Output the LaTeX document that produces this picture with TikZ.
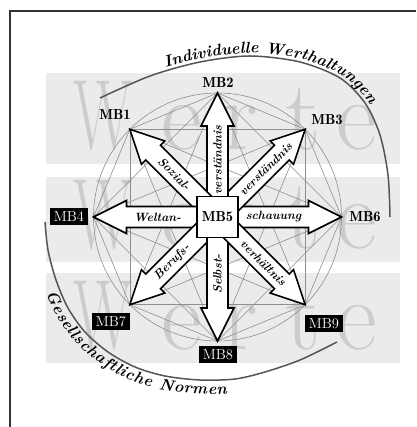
\documentclass[tikz,border=0pt]{standalone}
\usepackage{fontspec}
\newfontfamily\demifont{lmromandemi10-regular.otf}
\usetikzlibrary{calc,decorations.text}
\definecolor{bandgray}{HTML}{EBEBEB}
\definecolor{lettergray}{HTML}{CCCCCC}
\definecolor{linegray}{HTML}{8E8E8E}
\definecolor{arcgray}{HTML}{555555}
\begin{document}
\begin{tikzpicture}[x=1pt,y=1pt,
  band/.style={fill=bandgray, draw=none},
  werte/.style={text=lettergray, font=\fontsize{100}{100}\selectfont, anchor=base, inner sep=0pt},
  kline/.style={draw=linegray, line width=0.6pt},
  blockarrow/.style={draw=black, fill=white, line width=1.6pt, line join=miter},
  arrowlabel/.style={font=\fontsize{12}{13}\selectfont\bfseries\itshape, inner sep=0pt},
  plainlabel/.style={font=\demifont\fontsize{14.5}{14.5}\selectfont, inner sep=1pt},
  darklabel/.style={font=\fontsize{14.5}{14.5}\selectfont, fill=black, text=white, inner xsep=3.5pt, inner ysep=0pt, minimum height=17pt},
  centerbox/.style={draw=black, fill=white, line width=1.8pt, minimum width=41pt, minimum height=41pt, font=\demifont\fontsize{14.5}{14.5}\selectfont, inner sep=0pt},
  arcline/.style={draw=arcgray, line width=1.5pt},
  frameline/.style={draw=black!80, line width=1.5pt}]
\useasboundingbox (0,0) rectangle (416,427);
% frame
\draw[frameline] (10,0) -- (10,416) -- (416,416);
% bands
\fill[band] (46,263) rectangle (400,354);
\fill[band] (46,165) rectangle (400,250);
\fill[band] (46,64) rectangle (400,154);
% Werte letters
\foreach \yy in {277,178,77}{
  \node[werte] at (103,\yy) {\scalebox{0.62}[1]{W}};
  \node[werte] at (182,\yy) {e};
  \node[werte] at (240,\yy) {r};
  \node[werte] at (303,\yy) {t};
  \node[werte] at (357,\yy) {e};
}
% geometry
\coordinate (O) at (217.5,210);
\foreach \i in {0,...,7} \coordinate (Q\i) at ($(O)+(\i*45:124)$);
\draw[kline] (O) circle (124);
\foreach \i in {0,...,6}{
  \pgfmathtruncatemacro\s{\i+1}
  \foreach \j in {\s,...,7} \draw[kline] (Q\i) -- (Q\j);
}
% arcs
\draw[arcline] plot[smooth] coordinates {(100,329) (150,351) (200,365) (250,371) (300,365) (340,349) (365,324) (380,292) (388,252) (390,210)};
\path[decorate, decoration={text along path, raise=3pt,
  text align={left indent=72pt},
  text={|\fontsize{16}{16}\selectfont\bfseries\itshape|Individuelle Werthaltungen}}]
  plot[smooth] coordinates {(100,329) (150,351) (200,365) (250,371) (300,365) (340,349) (365,324) (380,292) (388,252) (390,210)};
\draw[arcline] plot[smooth] coordinates {(45,205) (48,177) (56,147) (68,119) (85,95) (108,75) (135,60) (165,51) (200,47) (235,48) (265,55) (300,67) (337,85)};
\path[decorate, decoration={text along path, raise=-14pt,
  text align={left indent=68pt},
  text={|\fontsize{16}{16}\selectfont\bfseries\itshape|Gesellschaftliche Normen}}]
  plot[smooth] coordinates {(45,205) (48,177) (56,147) (68,119) (85,95) (108,75) (135,60) (165,51) (200,47) (235,48) (265,55) (300,67) (337,85)};
% block arrows
\foreach \a in {0,45,...,315}
  \draw[blockarrow, shift={(O)}, rotate=\a] (0,-10.5) -- (91,-10.5) -- (91,-16.5) -- (124,0) -- (91,16.5) -- (91,10.5) -- (0,10.5) -- cycle;
% arrow labels
\node[arrowlabel, rotate=-45] (t1) at ($(O)+(135:61)$) {Sozial-};
\node[arrowlabel, rotate=90] (t2) at ($(O)+(90:57)$) {verständnis};
\node[arrowlabel, rotate=45] (t3) at ($(O)+(45:68)$) {verständnis};
\node[arrowlabel] (t4) at ($(O)+(180:60)$) {Weltan-};
\node[arrowlabel] (t6) at ($(O)+(0:56)$) {schauung};
\node[arrowlabel, rotate=45] (t7) at ($(O)+(-135:64)$) {Berufs-};
\node[arrowlabel, rotate=90] (t8) at ($(O)+(-90:57)$) {Selbst-};
\node[arrowlabel, rotate=-45] (t9) at ($(O)+(-45:65)$) {verhältnis};
% center box
\node[centerbox] (mb5) at (O) {MB5};
% labels
\node[plainlabel] (mb1) at (115,312) {MB1};
\node[plainlabel] (mb2) at (218,344) {MB2};
\node[plainlabel] (mb3) at (327,307) {MB3};
\node[plainlabel] (mb6) at (365,210) {MB6};
\node[darklabel] (mb4) at (69,210.5) {MB4};
\node[darklabel] (mb7) at (111,105) {MB7};
\node[darklabel] (mb8) at (218,72) {MB8};
\node[darklabel] (mb9) at (324,103) {MB9};
\end{tikzpicture}
\end{document}
